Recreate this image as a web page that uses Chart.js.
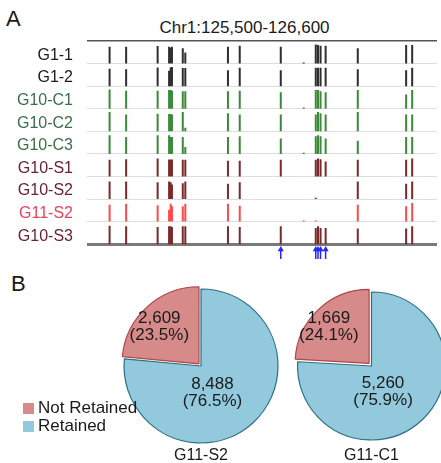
<!DOCTYPE html>
<html>
<head>
<meta charset="utf-8">
<script src="https://cdn.jsdelivr.net/npm/chart.js@4.4.1/dist/chart.umd.min.js"></script>
<style>
  html, body { margin: 0; padding: 0; background: #fff; overflow: hidden; width: 441px; height: 463px; }
  body { position: relative; font-family: "Liberation Sans", Arial, sans-serif; color: #1a1a1a; }
  .t { position: absolute; white-space: nowrap; line-height: 1; }
  canvas { position: absolute; }
  .sw { position: absolute; width: 11px; height: 11px; }
</style>
</head>
<body>

<div class="t" style="left:6px;top:8px;font-size:22px">A</div>
<div class="t" style="left:244.5px;top:19px;font-size:17px;transform:translateX(-50%)">Chr1:125,500-126,600</div>
<canvas id="tracks" width="441" height="264" style="left:0;top:0"></canvas>

<div class="t" style="left:11px;top:273px;font-size:22px">B</div>
<canvas id="pie1" width="200" height="200" style="left:101px;top:266px"></canvas>
<canvas id="pie2" width="201" height="200" style="left:271px;top:266px"></canvas>

<div class="sw" style="left:23px;top:403px;background:#d68a8a"></div>
<div class="t" style="left:38px;top:398.5px;font-size:17px">Not Retained</div>
<div class="sw" style="left:23px;top:421px;background:#92c9dc"></div>
<div class="t" style="left:38px;top:416.5px;font-size:17px">Retained</div>

<div class="t" style="left:201px;top:446.5px;font-size:16px;transform:translateX(-50%)">G11-S2</div>
<div class="t" style="left:371.5px;top:446.5px;font-size:16px;transform:translateX(-50%)">G11-C1</div>

<script>
// === DATA: PANEL A ===

const trackNames = ["G1-1", "G1-2", "G10-C1", "G10-C2", "G10-C3", "G10-S1", "G10-S2", "G11-S2", "G10-S3"];
const labelColors = ["#1a1a1a", "#1a1a1a", "#3b6e48", "#3b6e48", "#3b6e48", "#6a2233", "#6a2233", "#e8425a", "#6a2233"];
const barColors = ["#2e2e2e", "#2e2e2e", "#3a8a3a", "#3a8a3a", "#3a8a3a", "#7a2a2a", "#7a2a2a", "#ff4a4a", "#7a2a2a"];

// peak positions along Chr1 (bp)
const peakPositions = [125571, 125623, 125722, 125758, 125763, 125767, 125801, 125809, 125943, 125980,
                       126109, 126181, 126219, 126226, 126234, 126250, 126351, 126503, 126522];

// relative peak heights per track (fraction of row)
const g1_1 =  [0.74, 0.74, 0.78, 0.74, 0.70, 0.74, 0.68, 0.49, 0.75, 0.79, 0.74, 0.05, 0.85, 0.82, 0.79, 0.79, 0.68, 0.82, 0.82];
const g1_2 =  [0.77, 0.75, 0.83, 0.68, 0.83, 0.85, 0.80, 0.80, 0.70, 0.82, 0.70, 0,    0.82, 0.82, 0.82, 0.82, 0.75, 0.70, 0.82];
const g10_c1 = [0.85, 0.80, 0.80, 0.83, 0.83, 0.80, 0.77, 0.77, 0.77, 0.80, 0.73, 0.05, 0.83, 0.83, 0.77, 0.73, 0.83, 0.63, 0.83];
const g10_c2 = [0.85, 0.75, 0.78, 0.77, 0.77, 0.75, 0.85, 0.16, 0.80, 0.75, 0.75, 0,    0.75, 0.85, 0.80, 0.75, 0.85, 0.75, 0.75];
const g10_c3 = [0.83, 0.75, 0.83, 0.83, 0.75, 0.75, 0.75, 0.30, 0.75, 0.78, 0.68, 0.05, 0.78, 0.83, 0.78, 0.68, 0.58, 0.75, 0.75];
const g10_s1 = [0.74, 0.76, 0.80, 0.75, 0.75, 0.75, 0.74, 0.74, 0.70, 0.70, 0.74, 0,    0.74, 0.80, 0.76, 0.66, 0.74, 0.74, 0.80];
const g10_s2 = [0.78, 0.78, 0.74, 0.78, 0.74, 0.64, 0.70, 0.78, 0.68, 0.74, 0,    0,    0.06, 0,    0,    0,    0.78, 0.68, 0.78];
const g11_s2 = [0.75, 0.79, 0.72, 0.53, 0.79, 0.68, 0.68, 0.79, 0.79, 0.70, 0,    0.05, 0.05, 0,    0,    0,    0.75, 0.68, 0.82];
const g10_s3 = [0.82, 0.80, 0.76, 0.80, 0.80, 0.76, 0.80, 0.80, 0.80, 0.76, 0.80, 0,    0.72, 0.80, 0.72, 0.72, 0.70, 0.70, 0.80];
const peakHeights = [g1_1, g1_2, g10_c1, g10_c2, g10_c3, g10_s1, g10_s2, g11_s2, g10_s3];

// blue arrows under the tracks
const arrowPositions = [126109, 126219, 126226, 126234, 126250];

// === DATA: PANEL B ===

const sliceLabels = ["Retained", "Not Retained"];
const sliceFill = ["#92c9dc", "#d68a8a"];
const sliceBorder = ["#2e6f83", "#b0464a"];
const countsS2 = [8488, 2609];
const countsC1 = [5260, 1669];

// === TRACKS ===

const trackSets = trackNames.map((name, i) => {
  const pts = [];
  peakPositions.forEach((pos, j) => {
    const h = peakHeights[i][j];
    if (!h) return;
    pts.push({ x: pos, y: i + 1 }, { x: pos, y: i + 1 - h }, { x: pos, y: null });
  });
  return {
    label: name, data: pts, showLine: true, spanGaps: false,
    borderColor: barColors[i], borderWidth: 2, pointRadius: 0
  };
});

const shafts = [];
arrowPositions.forEach(pos => {
  shafts.push({ x: pos, y: 9.66 }, { x: pos, y: 9.2 }, { x: pos, y: null });
});

new Chart(document.getElementById("tracks"), {
  type: "scatter",
  data: {
    datasets: [
      ...trackSets,
      { data: shafts, showLine: true, spanGaps: false, borderColor: "#2626ff", borderWidth: 1.5, pointRadius: 0 },
      { data: arrowPositions.map(p => ({ x: p, y: 9.24 })), pointStyle: "triangle", pointRadius: 3.5,
        backgroundColor: "#2626ff", borderWidth: 0 }
    ]
  },
  options: {
    responsive: false,
    animation: false,
    events: [],
    layout: { padding: { top: 41, left: 0, right: 0, bottom: 0 } },
    plugins: { legend: { display: false }, tooltip: { enabled: false } },
    scales: {
      x: { type: "linear", min: 125500, max: 126600, display: false },
      y: {
        type: "linear", min: 0, max: 9.7, reverse: true,
        afterBuildTicks: s => { s.ticks = [0, 1, 2, 3, 4, 5, 6, 7, 8, 9].map(v => ({ value: v })); },
        afterFit: s => { s.width = 87; s.paddingTop = 0; s.paddingBottom = 0; },
        border: { display: false },
        grid: {
          drawTicks: false,
          color: c => c.tick.value === 0 ? "#555" : c.tick.value === 9 ? "#7a7a7a" : "#dedede",
          lineWidth: c => c.tick.value === 0 ? 1.5 : c.tick.value === 9 ? 3 : 1
        },
        ticks: {
          autoSkip: false,
          padding: 14,
          labelOffset: 14.5,
          font: { family: "Liberation Sans", size: 16 },
          color: c => labelColors[c.index] || "#000",
          callback: (v, i) => trackNames[i] || ""
        }
      }
    }
  }
});

// === PIES ===

const labelAt = [0.57, 0.45];     // position along the slice angle
const labelDist = [0.38, 0.59];   // distance as fraction of radius

const sliceText = {
  id: "sliceText",
  afterDatasetsDraw(chart) {
    const ctx = chart.ctx;
    const values = chart.data.datasets[0].data;
    const total = values.reduce((a, b) => a + b, 0);
    chart.getDatasetMeta(0).data.forEach((arc, i) => {
      const p = arc.getProps(["x", "y", "startAngle", "endAngle", "outerRadius"]);
      const ang = p.startAngle + (p.endAngle - p.startAngle) * labelAt[i];
      const d = p.outerRadius * labelDist[i] + (arc.options.offset || 0);
      const px = p.x + Math.cos(ang) * d;
      const py = p.y + Math.sin(ang) * d;
      ctx.save();
      ctx.fillStyle = "#1a1a1a";
      ctx.font = '17px "Liberation Sans", Arial';
      ctx.textAlign = "center";
      ctx.textBaseline = "middle";
      ctx.fillText(values[i].toLocaleString("en-US"), px, py - 8.5);
      ctx.fillText("(" + (values[i] / total * 100).toFixed(1) + "%)", px, py + 8.5);
      ctx.restore();
    });
  }
};

function makePie(id, counts, radius, offset) {
  new Chart(document.getElementById(id), {
    type: "pie",
    data: {
      labels: sliceLabels,
      datasets: [{
        data: counts,
        backgroundColor: sliceFill,
        borderColor: sliceBorder,
        borderWidth: 1.2,
        offset: [0, offset],
        hoverOffset: 0,
        radius: radius
      }]
    },
    options: {
      responsive: false,
      animation: false,
      events: [],
      layout: { padding: 0 },
      plugins: { legend: { display: false }, tooltip: { enabled: false } }
    },
    plugins: [sliceText]
  });
}

makePie("pie1", countsS2, 77, 12);
makePie("pie2", countsC1, 74, 14);
</script>
</body>
</html>
